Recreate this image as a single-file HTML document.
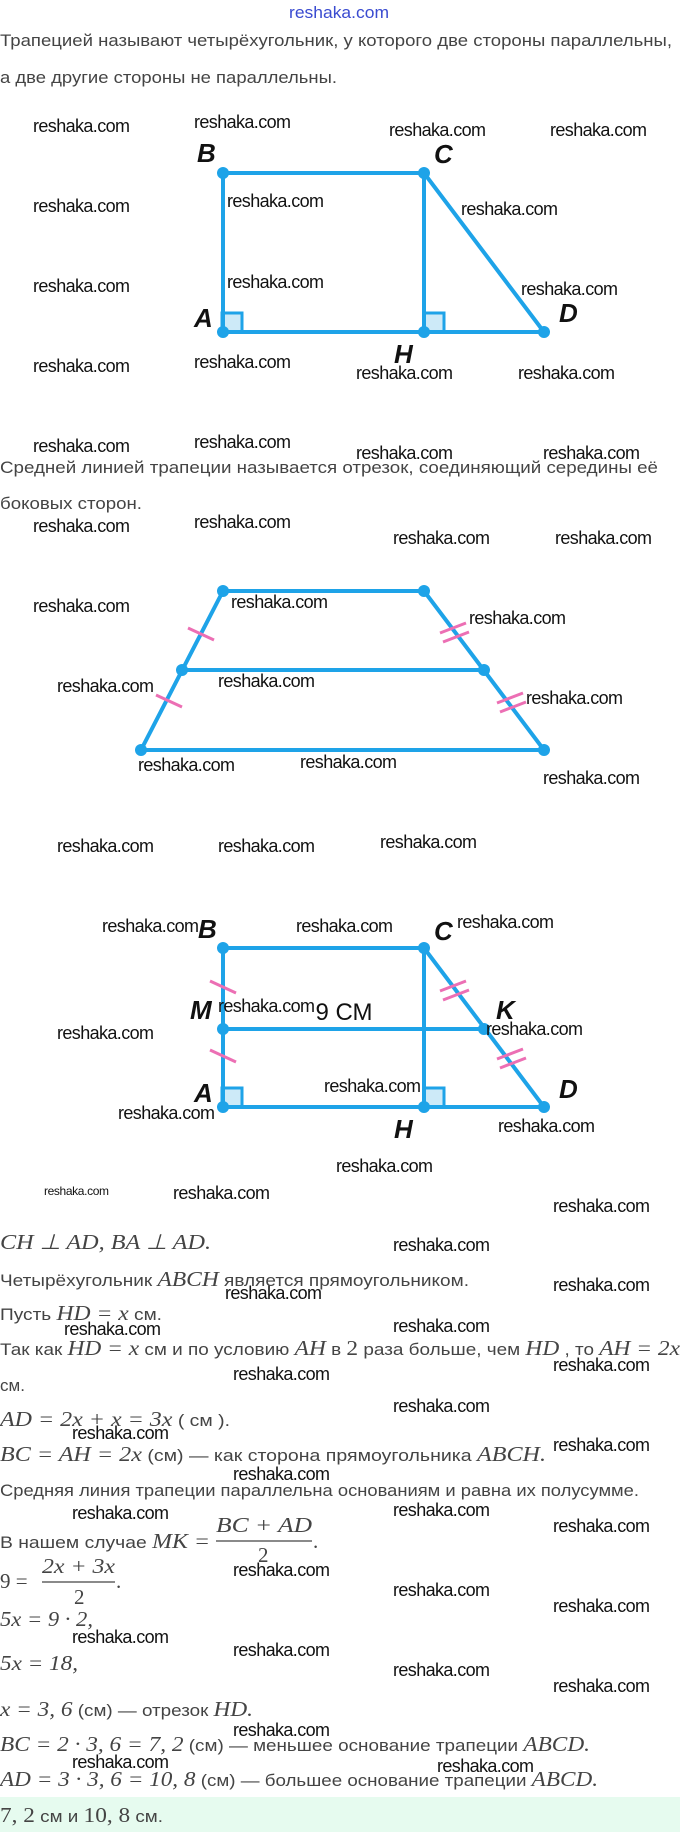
<!DOCTYPE html>
<html><head><meta charset="utf-8"><style>
html,body{margin:0;padding:0;background:#fff;}
svg{display:block;}
.w{font-family:"Liberation Sans",sans-serif;font-size:18px;fill:#111;}
.t{font-family:"Liberation Sans","Noto Sans CJK SC",sans-serif;font-size:17px;fill:#444;}
.m{font-family:"Liberation Serif",serif;font-style:italic;font-size:21px;fill:#444;}
.n{font-family:"Liberation Serif",serif;font-size:21px;fill:#444;}
.L{font-family:"Liberation Sans",sans-serif;font-style:italic;font-weight:bold;font-size:26px;fill:#111;}
.ln{stroke:#1ea3e8;stroke-width:4;fill:none;}
.dot{fill:#1ea3e8;}
.tk{stroke:#ec6fb4;stroke-width:3;}
</style></head><body>
<svg width="680" height="1832" viewBox="0 0 680 1832" xmlns="http://www.w3.org/2000/svg">
<rect x="0" y="1797" width="680" height="35" fill="#e6fbef"/>
<text x="339" y="18" text-anchor="middle" font-family="Liberation Sans,sans-serif" font-size="17" fill="#3a4bd0" textLength="100" lengthAdjust="spacingAndGlyphs">reshaka.com</text>
<text class="t" x="0" y="46" textLength="672" lengthAdjust="spacingAndGlyphs">Трапецией называют четырёхугольник, у которого две стороны параллельны,</text>
<text class="t" x="0" y="83" textLength="337" lengthAdjust="spacingAndGlyphs">а две другие стороны не параллельны.</text>

<!-- figure 1 -->
<rect x="222" y="313" width="20" height="19" fill="#cdeaf8" stroke="#1ea3e8" stroke-width="3"/>
<rect x="424" y="313" width="20" height="19" fill="#cdeaf8" stroke="#1ea3e8" stroke-width="3"/>
<polyline class="ln" points="223,332 223,173 424,173 544,332 223,332"/>
<line class="ln" x1="424" y1="173" x2="424" y2="332"/>
<g class="dot"><circle cx="223" cy="173" r="6"/><circle cx="424" cy="173" r="6"/><circle cx="223" cy="332" r="6"/><circle cx="424" cy="332" r="6"/><circle cx="544" cy="332" r="6"/></g>
<text class="L" x="197" y="162">B</text><text class="L" x="434" y="163">C</text>
<text class="L" x="194" y="327">A</text><text class="L" x="559" y="322">D</text><text class="L" x="394" y="363">H</text>

<text class="t" x="0" y="473" textLength="658" lengthAdjust="spacingAndGlyphs">Средней линией трапеции называется отрезок, соединяющий середины её</text>
<text class="t" x="0" y="509" textLength="142" lengthAdjust="spacingAndGlyphs">боковых сторон.</text>

<!-- figure 2 -->
<polyline class="ln" points="223,591 424,591 544,750 141,750 223,591"/>
<line class="ln" x1="182" y1="670" x2="484" y2="670"/>
<g class="dot"><circle cx="223" cy="591" r="6"/><circle cx="424" cy="591" r="6"/><circle cx="182" cy="670" r="6"/><circle cx="484" cy="670" r="6"/><circle cx="141" cy="750" r="6"/><circle cx="544" cy="750" r="6"/></g>
<g class="tk">
<line x1="188" y1="628" x2="214" y2="640"/><line x1="156" y1="695" x2="182" y2="707"/>
<line x1="440" y1="633" x2="466" y2="623"/><line x1="443" y1="642" x2="469" y2="632"/>
<line x1="497" y1="703" x2="523" y2="693"/><line x1="500" y1="712" x2="526" y2="702"/>
</g>

<!-- figure 3 -->
<rect x="222" y="1088" width="20" height="19" fill="#cdeaf8" stroke="#1ea3e8" stroke-width="3"/>
<rect x="424" y="1088" width="20" height="19" fill="#cdeaf8" stroke="#1ea3e8" stroke-width="3"/>
<polyline class="ln" points="223,1107 223,948 424,948 544,1107 223,1107"/>
<line class="ln" x1="424" y1="948" x2="424" y2="1107"/>
<line class="ln" x1="223" y1="1029" x2="484" y2="1029"/>
<g class="dot"><circle cx="223" cy="948" r="6"/><circle cx="424" cy="948" r="6"/><circle cx="223" cy="1029" r="6"/><circle cx="484" cy="1029" r="6"/><circle cx="223" cy="1107" r="6"/><circle cx="424" cy="1107" r="6"/><circle cx="544" cy="1107" r="6"/></g>
<g class="tk">
<line x1="210" y1="981" x2="236" y2="993"/><line x1="210" y1="1050" x2="236" y2="1062"/>
<line x1="440" y1="991" x2="466" y2="981"/><line x1="443" y1="1000" x2="469" y2="990"/>
<line x1="497" y1="1059" x2="523" y2="1049"/><line x1="500" y1="1068" x2="526" y2="1058"/>
</g>
<text class="L" x="198" y="938">B</text><text class="L" x="434" y="940">C</text>
<text class="L" x="190" y="1019">M</text><text class="L" x="496" y="1019">K</text>
<text class="L" x="194" y="1102">A</text><text class="L" x="559" y="1098">D</text><text class="L" x="394" y="1138">H</text>
<text x="344" y="1020" text-anchor="middle" font-family="Liberation Sans,sans-serif" font-size="24" fill="#111">9 СМ</text>

<!-- watermarks -->
<g class="w">
<text x="33" y="132" textLength="97">reshaka.com</text><text x="194" y="128" textLength="97">reshaka.com</text>
<text x="389" y="136" textLength="97">reshaka.com</text><text x="550" y="136" textLength="97">reshaka.com</text>
<text x="33" y="212" textLength="97">reshaka.com</text><text x="227" y="207" textLength="97">reshaka.com</text>
<text x="461" y="215" textLength="97">reshaka.com</text>
<text x="33" y="292" textLength="97">reshaka.com</text><text x="227" y="288" textLength="97">reshaka.com</text>
<text x="521" y="295" textLength="97">reshaka.com</text>
<text x="33" y="372" textLength="97">reshaka.com</text><text x="194" y="368" textLength="97">reshaka.com</text>
<text x="356" y="379" textLength="97">reshaka.com</text><text x="518" y="379" textLength="97">reshaka.com</text>
<text x="33" y="452" textLength="97">reshaka.com</text><text x="194" y="448" textLength="97">reshaka.com</text>
<text x="356" y="459" textLength="97">reshaka.com</text><text x="543" y="459" textLength="97">reshaka.com</text>
<text x="33" y="532" textLength="97">reshaka.com</text><text x="194" y="528" textLength="97">reshaka.com</text>
<text x="393" y="544" textLength="97">reshaka.com</text><text x="555" y="544" textLength="97">reshaka.com</text>
<text x="33" y="612" textLength="97">reshaka.com</text><text x="231" y="608" textLength="97">reshaka.com</text>
<text x="469" y="624" textLength="97">reshaka.com</text>
<text x="57" y="692" textLength="97">reshaka.com</text><text x="218" y="687" textLength="97">reshaka.com</text>
<text x="526" y="704" textLength="97">reshaka.com</text>
<text x="138" y="771" textLength="97">reshaka.com</text><text x="300" y="768" textLength="97">reshaka.com</text>
<text x="543" y="784" textLength="97">reshaka.com</text>
<text x="57" y="852" textLength="97">reshaka.com</text><text x="218" y="852" textLength="97">reshaka.com</text>
<text x="380" y="848" textLength="97">reshaka.com</text>
<text x="102" y="932" textLength="97">reshaka.com</text><text x="296" y="932" textLength="97">reshaka.com</text>
<text x="457" y="928" textLength="97">reshaka.com</text>
<text x="218" y="1012" textLength="97">reshaka.com</text>
<text x="57" y="1039" textLength="97">reshaka.com</text><text x="486" y="1035" textLength="97">reshaka.com</text>
<text x="324" y="1092" textLength="97">reshaka.com</text>
<text x="118" y="1119" textLength="97">reshaka.com</text><text x="498" y="1132" textLength="97">reshaka.com</text>
<text x="336" y="1172" textLength="97">reshaka.com</text>
<text x="44" y="1195" textLength="65" style="font-size:12px">reshaka.com</text>
<text x="173" y="1199" textLength="97">reshaka.com</text><text x="553" y="1212" textLength="97">reshaka.com</text>
<text x="393" y="1251" textLength="97">reshaka.com</text><text x="553" y="1291" textLength="97">reshaka.com</text>
<text x="225" y="1299" textLength="97">reshaka.com</text>
<text x="64" y="1335" textLength="97">reshaka.com</text><text x="393" y="1332" textLength="97">reshaka.com</text>
<text x="553" y="1371" textLength="97">reshaka.com</text><text x="233" y="1380" textLength="97">reshaka.com</text>
<text x="393" y="1412" textLength="97">reshaka.com</text>
<text x="72" y="1439" textLength="97">reshaka.com</text><text x="553" y="1451" textLength="97">reshaka.com</text>
<text x="233" y="1480" textLength="97">reshaka.com</text>
<text x="72" y="1519" textLength="97">reshaka.com</text><text x="393" y="1516" textLength="97">reshaka.com</text>
<text x="553" y="1532" textLength="97">reshaka.com</text>
<text x="233" y="1576" textLength="97">reshaka.com</text><text x="393" y="1596" textLength="97">reshaka.com</text>
<text x="553" y="1612" textLength="97">reshaka.com</text>
<text x="72" y="1643" textLength="97">reshaka.com</text><text x="233" y="1656" textLength="97">reshaka.com</text>
<text x="393" y="1676" textLength="97">reshaka.com</text><text x="553" y="1692" textLength="97">reshaka.com</text>
<text x="233" y="1736" textLength="97">reshaka.com</text>
<text x="72" y="1768" textLength="97">reshaka.com</text><text x="437" y="1772" textLength="97">reshaka.com</text>
</g>

<!-- solution text -->
<text x="0" y="1249" textLength="211" lengthAdjust="spacingAndGlyphs"><tspan class="m">CH ⊥ AD, BA ⊥ AD.</tspan></text>
<text x="0" y="1286" textLength="469" lengthAdjust="spacingAndGlyphs"><tspan class="t">Четырёхугольник </tspan><tspan class="m">ABCH</tspan><tspan class="t"> является прямоугольником.</tspan></text>
<text x="0" y="1320" textLength="162" lengthAdjust="spacingAndGlyphs"><tspan class="t">Пусть </tspan><tspan class="m">HD = x</tspan><tspan class="t"> см.</tspan></text>
<text x="0" y="1355" textLength="680" lengthAdjust="spacingAndGlyphs"><tspan class="t">Так как </tspan><tspan class="m">HD = x</tspan><tspan class="t"> см и по условию </tspan><tspan class="m">AH</tspan><tspan class="t"> в </tspan><tspan class="n">2</tspan><tspan class="t"> раза больше, чем </tspan><tspan class="m">HD</tspan><tspan class="t"> , то </tspan><tspan class="m">AH = 2x</tspan></text>
<text class="t" x="0" y="1391">см.</text>
<text x="0" y="1426" textLength="230" lengthAdjust="spacingAndGlyphs"><tspan class="m">AD = 2x + x = 3x</tspan><tspan class="t"> ( см ).</tspan></text>
<text x="0" y="1461" textLength="546" lengthAdjust="spacingAndGlyphs"><tspan class="m">BC = AH = 2x</tspan><tspan class="t"> (см) — как сторона прямоугольника </tspan><tspan class="m">ABCH.</tspan></text>
<text class="t" x="0" y="1496" textLength="639" lengthAdjust="spacingAndGlyphs">Средняя линия трапеции параллельна основаниям и равна их полусумме.</text>
<text x="0" y="1548" textLength="210" lengthAdjust="spacingAndGlyphs"><tspan class="t">В нашем случае </tspan><tspan class="m">MK =</tspan></text>
<text class="m" x="216" y="1532" textLength="96" lengthAdjust="spacingAndGlyphs">BC + AD</text>
<line x1="216" y1="1541" x2="312" y2="1541" stroke="#444" stroke-width="1.3"/>
<text class="n" x="258" y="1562">2</text><text class="n" x="313" y="1548">.</text>
<text x="0" y="1588"><tspan class="n">9 =</tspan></text>
<text class="m" x="42" y="1573" textLength="73" lengthAdjust="spacingAndGlyphs">2x + 3x</text>
<line x1="42" y1="1582" x2="115" y2="1582" stroke="#444" stroke-width="1.3"/>
<text class="n" x="74" y="1604">2</text><text class="n" x="116" y="1588">.</text>
<text class="m" x="0" y="1626" textLength="93" lengthAdjust="spacingAndGlyphs">5x = 9 · 2,</text>
<text class="m" x="0" y="1670" textLength="78" lengthAdjust="spacingAndGlyphs">5x = 18,</text>
<text x="0" y="1716" textLength="253" lengthAdjust="spacingAndGlyphs"><tspan class="m">x = 3, 6</tspan><tspan class="t"> (см) — отрезок </tspan><tspan class="m">HD.</tspan></text>
<text x="0" y="1751" textLength="590" lengthAdjust="spacingAndGlyphs"><tspan class="m">BC = 2 · 3, 6 = 7, 2</tspan><tspan class="t"> (см) — меньшее основание трапеции </tspan><tspan class="m">ABCD.</tspan></text>
<text x="0" y="1786" textLength="598" lengthAdjust="spacingAndGlyphs"><tspan class="m">AD = 3 · 3, 6 = 10, 8</tspan><tspan class="t"> (см) — большее основание трапеции </tspan><tspan class="m">ABCD.</tspan></text>
<text x="0" y="1822" textLength="163" lengthAdjust="spacingAndGlyphs"><tspan class="n">7, 2</tspan><tspan class="t"> см и </tspan><tspan class="n">10, 8</tspan><tspan class="t"> см.</tspan></text>
</svg>
</body></html>
